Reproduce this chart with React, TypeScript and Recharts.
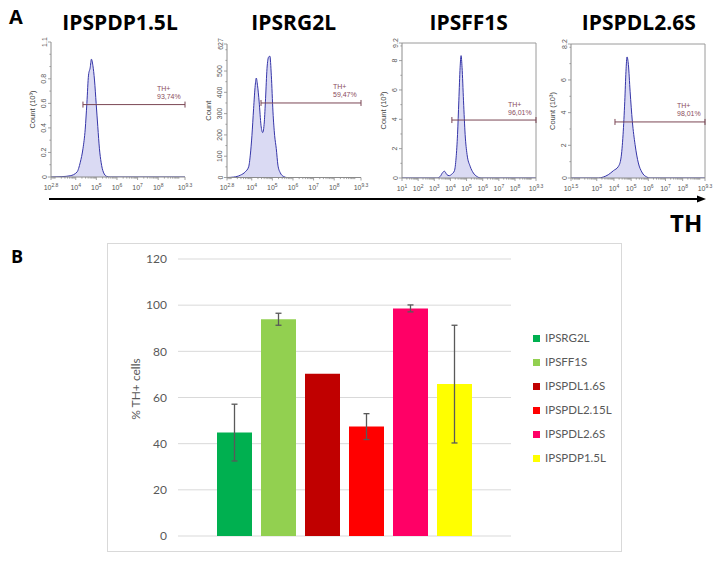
import React from 'react';
import {
  AreaChart, Area, XAxis, YAxis, ReferenceLine, Label,
  BarChart, Bar, ErrorBar, CartesianGrid, Legend,
} from 'recharts';

// ---------- Panel A data (log10 fluorescence, count) ----------
const h1X = [2.8, 3.33, 3.73, 4.06, 4.22, 4.35, 4.46, 4.54, 4.62, 4.70, 4.76, 4.83, 4.91, 4.99, 5.07, 5.15, 5.23, 5.34, 5.5, 5.67, 9.3];
const h1Y = [0, 0.003, 0.01, 0.04, 0.12, 0.23, 0.39, 0.6, 0.83, 0.89, 0.96, 0.91, 0.79, 0.6, 0.41, 0.23, 0.12, 0.04, 0.005, 0, 0];

const h2X = [2.8, 3.12, 3.45, 3.69, 3.85, 3.93, 4.01, 4.09, 4.17, 4.22, 4.28, 4.36, 4.45, 4.53, 4.61, 4.67, 4.74, 4.82, 4.88, 4.95, 5.03, 5.11, 5.19, 5.27, 5.38, 5.54, 5.7, 9.3];
const h2Y = [0, 2, 11, 27, 50, 105, 198, 323, 433, 467, 433, 355, 245, 211, 261, 370, 511, 566, 570, 480, 308, 198, 136, 58, 23, 5, 0, 0];

const h3X = [1, 3.16, 3.37, 3.5, 3.63, 3.78, 3.92, 4.09, 4.25, 4.35, 4.44, 4.52, 4.60, 4.66, 4.72, 4.81, 4.91, 5.03, 5.22, 5.42, 5.63, 5.9, 9.3];
const h3Y = [0, 0, 0.11, 0.35, 0.46, 0.23, 0.16, 0.27, 0.5, 1.37, 2.97, 5.26, 7.54, 8.34, 7.54, 5.26, 2.97, 1.6, 0.8, 0.34, 0.11, 0, 0];

const h4X = [1.5, 3.09, 3.38, 3.67, 3.97, 4.26, 4.41, 4.53, 4.63, 4.70, 4.76, 4.84, 4.94, 5.07, 5.23, 5.42, 5.62, 5.91, 6.1, 9.3];
const h4Y = [0, 0, 0.06, 0.2, 0.45, 0.71, 1.22, 2.65, 4.69, 6.53, 7.41, 6.94, 5.31, 3.47, 2.04, 0.92, 0.37, 0.06, 0, 0];

const histTitles = ['IPSPDP1.5L', 'IPSRG2L', 'IPSFF1S', 'IPSPDL2.6S'];
const histPct = ['93,74%', '59,47%', '96,01%', '98,01%'];
const histGateStart = [4.35, 4.45, 4.09, 4.06];
const histGateLevel = [0.59, 350, 3.95, 3.43];
const histXMin = [2.8, 2.8, 1, 1.5];
const histXTicks = [
  [2.8, 4, 5, 6, 7, 8, 9.3],
  [2.8, 4, 5, 6, 7, 8, 9.3],
  [1, 2, 3, 4, 5, 6, 7, 8, 9.3],
  [1.5, 3, 4, 5, 6, 7, 8, 9.3],
];
const histYMax = [1.1, 627, 9.2, 8.2];
const histYTicks = [
  [0, 0.2, 0.4, 0.6, 0.8, 1.1],
  [0, 100, 200, 300, 400, 500, 627],
  [0, 2, 4, 6, 8, 9.2],
  [0, 2, 4, 6, 8.2],
];
const histYMinorStep = [0.1, 50, 1, 1];
const histYLabel = ['Count (10³)', 'Count', 'Count (10³)', 'Count (10³)'];

// ---------- Panel B data ----------
const barSeries = ['IPSRG2L', 'IPSFF1S', 'IPSPDL1.6S', 'IPSPDL2.15L', 'IPSPDL2.6S', 'IPSPDP1.5L'];
const barValues = [44.8, 93.9, 70.3, 47.4, 98.6, 65.8];
const barErrors = [12.3, 2.6, 0, 5.6, 1.5, 25.5];
const barColors = ['#00b050', '#92d050', '#c00000', '#ff0000', '#ff0066', '#ffff00'];
const barTicks = [0, 20, 40, 60, 80, 100, 120];

const AX = '#8c8c8c';
const TICKTXT = '#555555';
const SANS = 'Liberation Sans, Arial, sans-serif';

type HistProps = {
  idx: number;
  left: number; right: number; top: number; bottom: number;
  xs: number[]; ys: number[]; frame: boolean;
};

function Histogram({ idx, left, right, top, bottom, xs, ys, frame }: HistProps) {
  const ml = 28, mt = 10, mr = 8, xh = 20;
  const plotW = right - left;
  const plotH = bottom - top;
  const width = plotW + ml + mr;
  const height = plotH + mt + xh;
  const axisY = mt + plotH;
  const axisX = ml;
  const data = xs.map((x, i) => ({ x, y: ys[i] }));
  const xMin = histXMin[idx];
  const xMaj = histXTicks[idx];
  const yMax = histYMax[idx];
  const yMaj = histYTicks[idx];

  const xMinor: number[] = [];
  for (let n = Math.floor(xMin); n <= 9; n++) {
    for (let k = 1; k <= 9; k++) {
      const v = n + Math.log10(k);
      if (v > xMin + 1e-6 && v < 9.3 - 1e-6 && !xMaj.some((m) => Math.abs(m - v) < 1e-6)) xMinor.push(v);
    }
  }
  const yMinor: number[] = [];
  const st = histYMinorStep[idx];
  for (let v = st; v < yMax - 1e-6; v += st) {
    const r = Math.round(v * 1000) / 1000;
    if (!yMaj.some((m) => Math.abs(m - r) < 1e-6)) yMinor.push(r);
  }
  const allX = [...xMaj, ...xMinor].sort((a, b) => a - b);
  const allY = [...yMaj, ...yMinor].sort((a, b) => a - b);

  const XTick = (p: any) => {
    const v = p.payload.value;
    const x = p.x;
    const major = xMaj.some((m) => Math.abs(m - v) < 1e-6);
    return (
      <g>
        <line x1={x} x2={x} y1={axisY} y2={axisY + (major ? 3 : 1.6)} stroke={AX} strokeWidth={0.8} />
        {major && (
          <text x={x} y={axisY + 12.5} textAnchor="middle" fontSize={7} fill={TICKTXT} fontFamily={SANS}>
            10<tspan dy={-3} fontSize={5}>{String(v)}</tspan>
          </text>
        )}
      </g>
    );
  };
  const YTick = (p: any) => {
    const v = p.payload.value;
    const y = p.y;
    const major = yMaj.some((m) => Math.abs(m - v) < 1e-6);
    const tx = axisX - 4.5;
    return (
      <g>
        <line x1={axisX} x2={axisX - (major ? 3 : 1.6)} y1={y} y2={y} stroke={AX} strokeWidth={0.8} />
        {major && (
          <text x={tx} y={y} transform={`rotate(-90 ${tx} ${y})`} textAnchor="middle" fontSize={7} fill={TICKTXT} fontFamily={SANS}>
            {String(v)}
          </text>
        )}
      </g>
    );
  };
  const GateShape = (p: any) => {
    const { x1, y1, x2, y2 } = p;
    const c = '#7b4755';
    return (
      <g>
        <line x1={x1} y1={y1} x2={x2} y2={y2} stroke={c} strokeWidth={1} />
        <line x1={x1} x2={x1} y1={y1 - 3} y2={y1 + 3} stroke={c} strokeWidth={1} />
        <line x1={x2} x2={x2} y1={y1 - 3} y2={y1 + 3} stroke={c} strokeWidth={1} />
        <text x={x2 - 28} y={y1 - 13.5} fontSize={7} fill="#8a4c5c" fontFamily={SANS}>TH+</text>
        <text x={x2 - 28} y={y1 - 5.5} fontSize={7} fill="#8a4c5c" fontFamily={SANS}>{histPct[idx]}</text>
      </g>
    );
  };
  const YLab = () => {
    const cx = axisX - 19;
    const cy = mt + plotH / 2;
    return (
      <text x={cx} y={cy} transform={`rotate(-90 ${cx} ${cy})`} textAnchor="middle" dominantBaseline="central" fontSize={7.5} fill="#444" fontFamily={SANS}>
        {histYLabel[idx]}
      </text>
    );
  };

  return (
    <div style={{ position: 'absolute', left: left - ml, top: top - mt }}>
      <AreaChart width={width} height={height} data={data} margin={{ top: mt, right: mr, left: 0, bottom: 0 }}>
        <XAxis dataKey="x" type="number" domain={[xMin, 9.3]} ticks={allX} interval={0} tick={XTick} tickLine={false}
          height={xh} stroke={AX} allowDataOverflow />
        <YAxis type="number" domain={[0, yMax]} ticks={allY} interval={0} tick={YTick} tickLine={false}
          width={ml} stroke={AX} allowDataOverflow>
          <Label content={YLab} />
        </YAxis>
        <Area dataKey="y" type="monotone" stroke="#3535a8" strokeWidth={1} fill="#dadaf3" fillOpacity={1} isAnimationActive={false} dot={false} activeDot={false} />
        {frame && <ReferenceLine y={yMax} stroke="#9a9a9a" ifOverflow="visible" />}
        {frame && <ReferenceLine x={9.3} stroke="#9a9a9a" ifOverflow="visible" />}
        <ReferenceLine
          segment={[{ x: histGateStart[idx], y: histGateLevel[idx] }, { x: 9.3, y: histGateLevel[idx] }]}
          ifOverflow="visible"
          shape={GateShape}
        />
      </AreaChart>
    </div>
  );
}

const barRow: Record<string, any> = { cat: 'TH' };
barSeries.forEach((_, i) => {
  barRow['s' + i] = barValues[i];
  barRow['e' + i] = barErrors[i];
});
const barData = [barRow];

const LegendContent = (props: any) => {
  const payload = [...(props.payload || [])].sort(
    (a: any, b: any) => barSeries.indexOf(a.value) - barSeries.indexOf(b.value),
  );
  return (
    <div>
      {payload.map((e: any, i: number) => (
        <div key={i} style={{ height: 24, display: 'flex', alignItems: 'center' }}>
          <span style={{ display: 'inline-block', width: 7, height: 7, background: e.color, marginRight: 5 }} />
          <span style={{ fontFamily: 'Lato, sans-serif', fontSize: 11.5, color: '#595959', lineHeight: '24px' }}>{e.value}</span>
        </div>
      ))}
    </div>
  );
};

const BarYLabel = () => (
  <text x={28} y={146} transform="rotate(-90 28 146)" textAnchor="middle" dominantBaseline="central"
    fontFamily="Lato, sans-serif" fontSize={12} fill="#595959">% TH+ cells</text>
);

export default function App() {
  return (
    <div style={{ position: 'absolute', left: 0, top: 0, width: 718, height: 561, background: '#fff', overflow: 'hidden' }}>
      <Histogram idx={0} left={51} right={185} top={42} bottom={177} xs={h1X} ys={h1Y} frame={false} />
      <Histogram idx={1} left={227} right={361} top={43.5} bottom={177} xs={h2X} ys={h2Y} frame={false} />
      <Histogram idx={2} left={402} right={536} top={43} bottom={178} xs={h3X} ys={h3Y} frame={true} />
      <Histogram idx={3} left={571} right={705} top={44} bottom={178} xs={h4X} ys={h4Y} frame={true} />

      <div style={{ position: 'absolute', left: 107, top: 243, width: 515, height: 309, border: '1px solid #d9d9d9', boxSizing: 'border-box' }} />
      <div style={{ position: 'absolute', left: 107, top: 243 }}>
        <BarChart width={515} height={309} data={barData} margin={{ top: 16, right: 111, left: 0, bottom: 16 }} barGap={9}>
          <CartesianGrid vertical={false} stroke="#d9d9d9" />
          <XAxis dataKey="cat" hide />
          <YAxis domain={[0, 120]} ticks={barTicks} interval={0} width={71} axisLine={false} tickLine={false}
            tickSize={0} tickMargin={11} tick={{ fill: '#595959', fontSize: 12, fontFamily: 'Lato, sans-serif' }}>
            <Label content={BarYLabel} />
          </YAxis>
          {barSeries.map((name, i) => (
            <Bar key={name} dataKey={'s' + i} name={name} fill={barColors[i]} barSize={35} isAnimationActive={false}>
              {barErrors[i] > 0 && <ErrorBar dataKey={'e' + i} width={3} stroke="#595959" strokeWidth={1.3} direction="y" />}
            </Bar>
          ))}
          <Legend layout="horizontal" align="center" verticalAlign="middle" content={LegendContent}
            wrapperStyle={{ left: 426, top: 83, width: 100, height: 150 }} />
        </BarChart>
      </div>

      <svg width={718} height={561} style={{ position: 'absolute', left: 0, top: 0, pointerEvents: 'none' }}>
        <text x={9} y={24} fontFamily="Open Sans, sans-serif" fontWeight={700} fontSize={20} fill="#000">A</text>
        {histTitles.map((t, i) => (
          <text key={t} x={[120, 293.7, 468.7, 638.8][i]} y={30} textAnchor="middle" fontFamily="Open Sans, sans-serif" fontWeight={700} fontSize={21} fill="#000">{t}</text>
        ))}
        <line x1={49} y1={199} x2={698} y2={199} stroke="#000" strokeWidth={2} />
        <polygon points="697,195.5 706,199 697,202.5" fill="#000" />
        <text x={670} y={232} fontFamily="Open Sans, sans-serif" fontWeight={700} fontSize={24} fill="#000">TH</text>
        <text x={11} y={263} fontFamily="Open Sans, sans-serif" fontWeight={700} fontSize={18} fill="#000">B</text>
      </svg>
    </div>
  );
}
